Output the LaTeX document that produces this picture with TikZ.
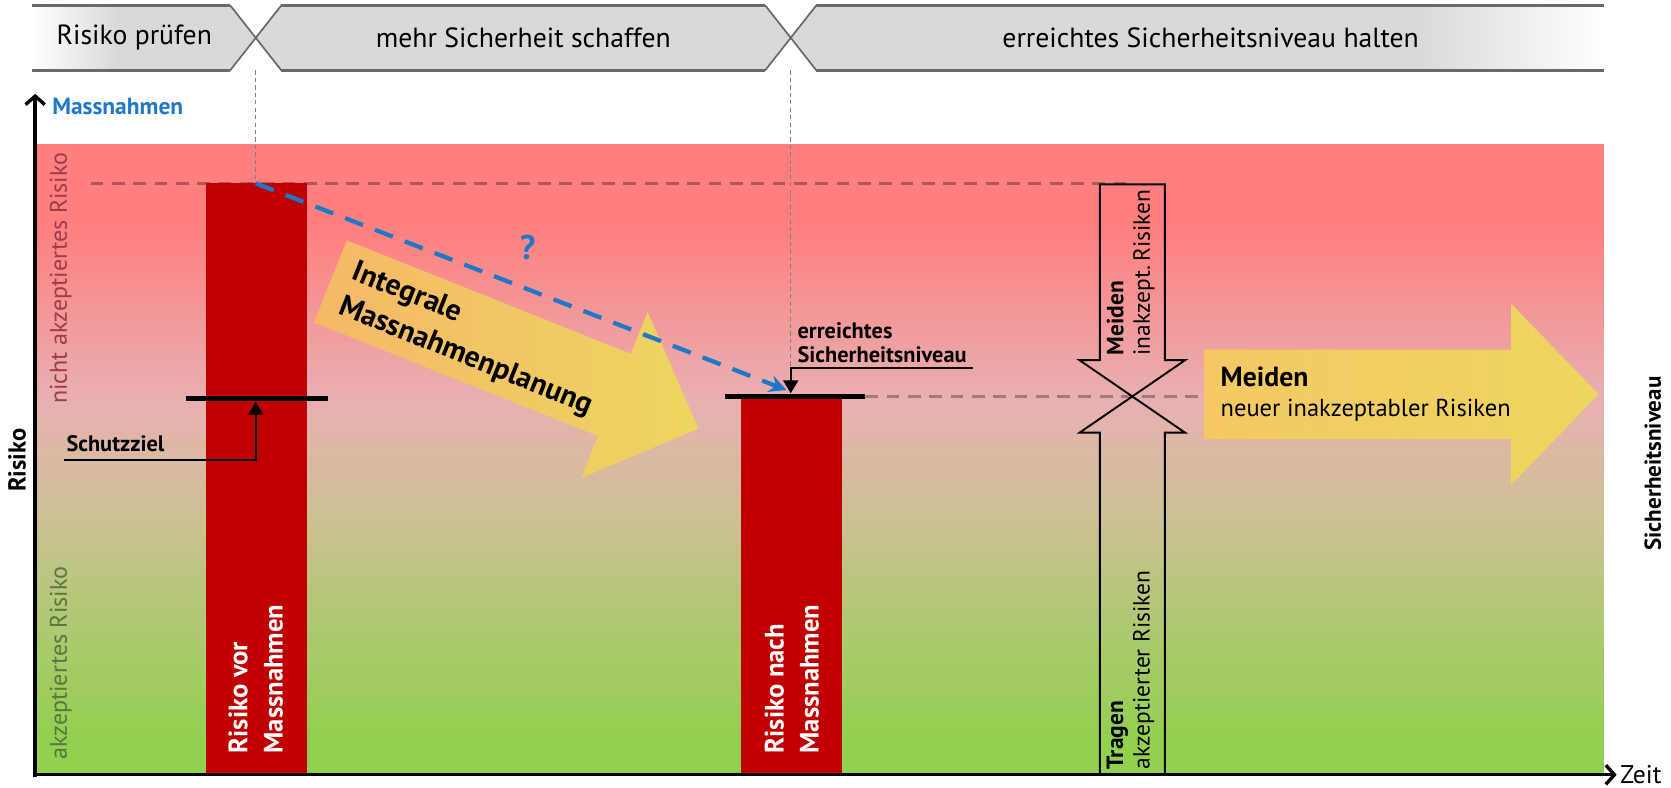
\documentclass[tikz,border=0pt]{standalone}
\usepackage{fontspec}
\setmainfont{PT Sans}
\usetikzlibrary{arrows.meta,positioning,calc}

\definecolor{zonered}{RGB}{255,126,126}
\definecolor{zonepink}{RGB}{232,176,178}
\definecolor{zonetan}{RGB}{208,192,152}
\definecolor{zonegreen}{RGB}{146,208,80}
\definecolor{barred}{RGB}{192,0,0}
\definecolor{planblue}{RGB}{30,120,200}
\definecolor{phasegray}{RGB}{217,217,217}
\definecolor{phaseline}{RGB}{105,105,105}
\definecolor{planorange}{RGB}{246,184,104}
\definecolor{planyellow}{RGB}{236,214,96}
\definecolor{meidorange}{RGB}{245,200,100}
\definecolor{badtext}{RGB}{158,60,72}
\definecolor{oktext}{RGB}{88,118,64}

\begin{document}
\begin{tikzpicture}[
    x=0.5pt, y=-0.5pt,
    phase/.style={font=\fontsize{13}{15}\selectfont},
    edge/.style={draw=phaseline, line width=1.6pt},
    seam/.style={draw=phaseline, line width=0.8pt},
    guide/.style={draw=gray, line width=0.4pt, dash pattern=on 2pt off 1.5pt},
    limit/.style={draw=black, draw opacity=0.3, line width=1.5pt, dash pattern=on 6pt off 4pt},
    level/.style={draw=black, line width=2.6pt},
    lead/.style={draw=black, line width=1pt, -{Triangle[length=6pt,width=7pt]}},
    dashroute/.style={draw=planblue, line width=2pt, dash pattern=on 9pt off 6pt, -{Stealth[length=8pt,width=8pt]}},
    axis/.style={line width=1.6pt, -{Straight Barb[length=4pt,width=9pt]}},
    zone/.style={rotate=90, anchor=west, font=\fontsize{11.3}{13}\selectfont},
    barlabel/.style={rotate=90, anchor=west, align=left, text=white, font=\bfseries\fontsize{12.5}{16.5}\selectfont},
    callout/.style={font=\bfseries\fontsize{10.5}{11.5}\selectfont, align=left},
    outline/.style={draw=black, line width=0.9pt},
    duty/.style={rotate=90, anchor=north west, align=left, inner sep=1pt, font=\fontsize{11}{12.5}\selectfont}
]
\useasboundingbox (0,0) rectangle (1568,739);

% Phases (top)
\fill[phasegray] (110,5) -- (216,5) -- (240,35.5) -- (216,66) -- (110,66) -- cycle;
\shade[left color=white, right color=phasegray] (30,5) rectangle (110.5,66);
\fill[phasegray] (264,5) -- (718,5) -- (742,35.5) -- (718,66) -- (264,66) -- (240,35.5) -- cycle;
\fill[phasegray] (766,5) -- (1330,5) -- (1330,66) -- (766,66) -- (742,35.5) -- cycle;
\shade[left color=phasegray, right color=white] (1329.5,5) rectangle (1505,66);
\draw[edge] (30,5) -- (216,5) (30,66) -- (216,66);
\draw[edge] (264,5) -- (718,5) (264,66) -- (718,66);
\draw[edge] (766,5) -- (1505,5) (766,66) -- (1505,66);
\draw[seam] (216,5) -- (264,66) (264,5) -- (216,66);
\draw[seam] (718,5) -- (766,66) (766,5) -- (718,66);
\node[phase] (check) at (126,35.5) {Risiko prüfen};
\node[phase] (raise) at (491,35.5) {mehr Sicherheit schaffen};
\node[phase] (hold) at (1136,35.5) {erreichtes Sicherheitsniveau halten};

% Risk zones
\fill[zonered] (35,135) rectangle (1505,210.5);
\shade[top color=zonered, bottom color=zonepink] (35,210) rectangle (1505,375.5);
\shade[top color=zonepink, bottom color=zonetan] (35,375) rectangle (1505,470.5);
\shade[top color=zonetan, bottom color=zonegreen] (35,470) rectangle (1505,690.5);
\fill[zonegreen] (35,690) rectangle (1505,727);
\node[zone, text=badtext] (notok) at (57,386) {nicht akzeptiertes Risiko};
\node[zone, text=oktext] (ok) at (57,720) {akzeptiertes Risiko};

% Guides and levels
\draw[guide] (240,66) -- (240,172);
\draw[guide] (742,66) -- (742,368);
\draw[limit] (85,172) -- (1062,172);
\draw[limit] (812,372) -- (1125,372);

% Risk bars
\fill[barred] (193,172) rectangle (288,727);
\fill[barred] (695,374) rectangle (790,727);
\node[barlabel] (before) at (240,714) {Risiko vor\\Massnahmen};
\node[barlabel] (after) at (743,714) {Risiko nach\\Massnahmen};
\draw[level] (175,374) -- (308,374);
\draw[level] (680,372) -- (812,372);

% Protection goal and reached level
\node[callout, anchor=south west, inner xsep=1pt, inner ysep=4pt] (schutz) at (60,432) {Schutzziel};
\coordinate (goal) at (240,377);
\draw[lead] (schutz.south west) -| (goal);
\node[callout, anchor=south west, inner xsep=3pt, inner ysep=2pt] (niveau) at (742,345) {erreichtes\\Sicherheitsniveau};
\coordinate (reach) at (742,369);
\draw[lead] (niveau.south east) -| (reach);

% Integral planning arrow
\begin{scope}[shift={(310,264)}, rotate=-21.8]
\shade[left color=planorange, right color=planyellow] (0,-41.5) -- (287,-41.5) -- (287,-84) -- (372,0) -- (287,84) -- (287,41.5) -- (0,41.5) -- cycle;
\node[transform shape, anchor=north west, align=left, font=\bfseries\fontsize{14}{17.5}\selectfont] (plan) at (10,-36) {Integrale\\Massnahmenplanung};
\end{scope}
\coordinate (peak) at (240,172);
\coordinate (landed) at (738,366);
\draw[dashroute] (peak) -- (landed);
\node[text=planblue, font=\bfseries\fontsize{16}{18}\selectfont] (ask) at (495,232) {?};

% Avoid / bear
\draw[outline] (1032,173) -- (1093,173) -- (1093,338) -- (1112,338) -- (1062.5,372) -- (1013,338) -- (1032,338) -- cycle;
\draw[outline] (1062.5,372) -- (1112,406) -- (1093,406) -- (1093,727) -- (1032,727) -- (1032,406) -- (1013,406) -- cycle;
\node[duty] (avoid) at (1036,336) {\textbf{Meiden}\\inakzept.\,Risiken};
\node[duty] (bear) at (1036,724) {\textbf{Tragen}\\akzeptierter Risiken};

\shade[left color=meidorange, right color=planyellow] (1130,328) -- (1418,328) -- (1418,285) -- (1500,370) -- (1418,455) -- (1418,412) -- (1130,412) -- cycle;
\node[anchor=west, align=left, inner sep=0pt, font=\fontsize{11.5}{14}\selectfont] (newrisk) at (1145,370) {\textbf{\fontsize{13}{14}\selectfont Meiden}\\neuer inakzeptabler Risiken};

% Axes
\draw[axis] (33,729) -- (33,88);
\draw[axis] (31,727) -- (1517,727);
\node[anchor=west, inner sep=1pt, font=\fontsize{12}{14}\selectfont] (time) at (1518,727) {Zeit};
\node[rotate=90, font=\bfseries\fontsize{11.5}{13}\selectfont] (risk) at (16,432) {Risiko};
\node[rotate=90, font=\bfseries\fontsize{10.8}{13}\selectfont] (safety) at (1551,435) {Sicherheitsniveau};
\node[anchor=west, text=planblue, font=\bfseries\fontsize{11}{13}\selectfont] (measures) at (42,100) {Massnahmen};
\end{tikzpicture}
\end{document}
